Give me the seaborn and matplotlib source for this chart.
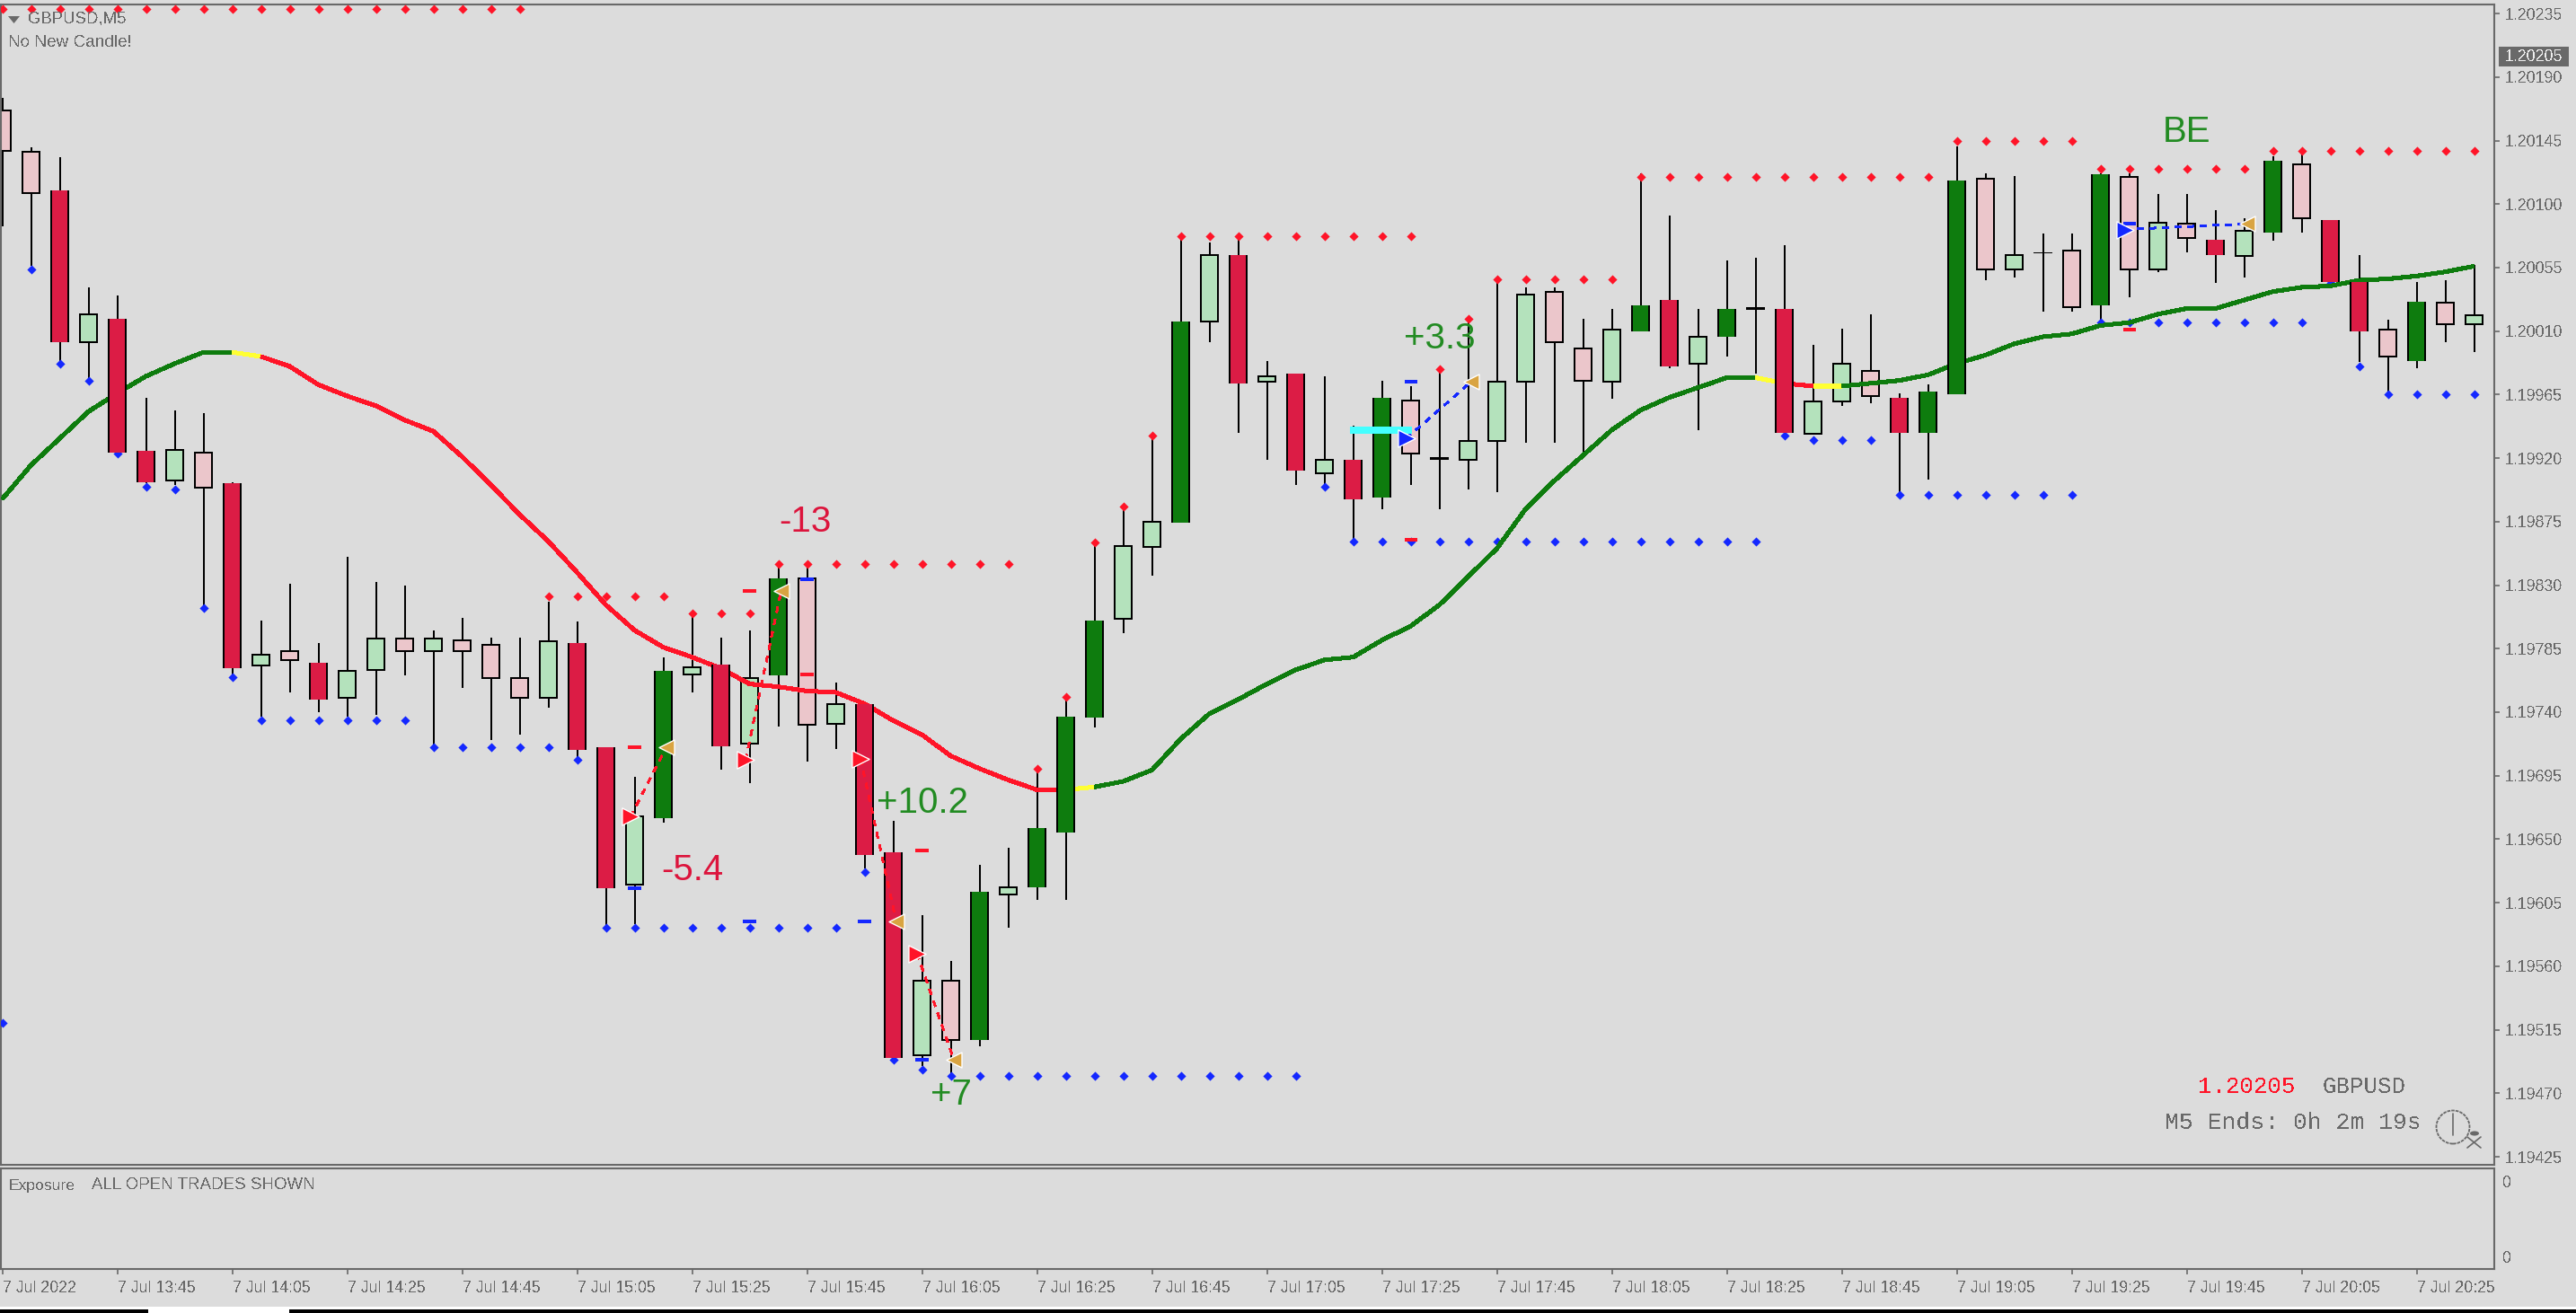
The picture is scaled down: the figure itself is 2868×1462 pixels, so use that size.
import matplotlib
matplotlib.use('Agg')
import matplotlib.pyplot as plt
import matplotlib.patches as mpatches
import seaborn as sns
import numpy as np

# Candles of GBPUSD,M5, one per 5 minutes
HIGHS = [1.20175,1.20140,1.20133,1.20041,1.20035,1.19963,1.19954,1.19952,1.19903,1.19805,
         1.19831,1.19789,1.19850,1.19832,1.19830,1.19798,1.19807,1.19793,1.19793,1.19818,
         1.19804,1.19715,1.19694,1.19779,1.19809,1.19793,1.19798,1.19844,1.19844,1.19761,
         1.19746,1.19663,1.19596,1.19564,1.19632,1.19644,1.19700,1.19751,1.19860,1.19885,
         1.19935,1.20076,1.20073,1.20076,1.19989,1.19980,1.19978,1.19943,1.19975,1.19971,
         1.19982,1.20017,1.20045,1.20041,1.20041,1.20019,1.20026,1.20122,1.20092,1.20026,
         1.20060,1.20062,1.20071,1.20000,1.20012,1.20022,1.19966,1.19972,1.20141,1.20122,
         1.20120,1.20079,1.20079,1.20122,1.20122,1.20107,1.20107,1.20096,1.20090,1.20134,
         1.20135,1.20089,1.20064,1.20018,1.20045,1.20046,1.20057]
BODY_TOPS = [1.20166,1.20137,1.20110,1.20022,1.20019,1.19925,1.19926,1.19924,1.19902,1.19781,
             1.19783,1.19775,1.19769,1.19792,1.19792,1.19792,1.19791,1.19788,1.19764,1.19790,
             1.19789,1.19715,1.19666,1.19769,1.19772,1.19774,1.19764,1.19835,1.19835,1.19746,
             1.19746,1.19641,1.19550,1.19550,1.19613,1.19616,1.19658,1.19737,1.19805,1.19858,
             1.19875,1.20017,1.20064,1.20064,1.19978,1.19980,1.19919,1.19919,1.19963,1.19961,
             1.19921,1.19932,1.19974,1.20036,1.20038,1.19998,1.20011,1.20028,1.20032,1.20006,
             1.20026,1.20027,1.20026,1.19960,1.19987,1.19982,1.19963,1.19967,1.20117,1.20118,
             1.20064,1.20066,1.20067,1.20121,1.20119,1.20087,1.20086,1.20075,1.20081,1.20131,
             1.20128,1.20089,1.20045,1.20011,1.20031,1.20030,1.20021]
BODY_BOTTOMS = [1.20138,1.20108,1.20002,1.20002,1.19924,1.19903,1.19904,1.19899,1.19771,1.19773,
                1.19777,1.19749,1.19750,1.19770,1.19783,1.19783,1.19783,1.19764,1.19750,1.19750,
                1.19713,1.19615,1.19618,1.19665,1.19767,1.19716,1.19718,1.19766,1.19731,1.19732,
                1.19639,1.19495,1.19497,1.19508,1.19508,1.19611,1.19616,1.19655,1.19736,1.19806,
                1.19857,1.19874,1.20017,1.19973,1.19974,1.19911,1.19909,1.19891,1.19892,1.19923,
                1.19919,1.19919,1.19932,1.19974,1.20002,1.19975,1.19974,1.20010,1.19985,1.19987,
                1.20006,1.20025,1.19938,1.19937,1.19960,1.19964,1.19938,1.19938,1.19965,1.20054,
                1.20054,1.20065,1.20027,1.20028,1.20054,1.20054,1.20076,1.20064,1.20063,1.20080,
                1.20090,1.20045,1.20010,1.19992,1.19989,1.20015,1.20015]
LOWS = [1.20084,1.20056,1.19989,1.19977,1.19923,1.19902,1.19901,1.19816,1.19767,1.19737,
        1.19754,1.19740,1.19737,1.19738,1.19766,1.19716,1.19757,1.19720,1.19724,1.19743,
        1.19706,1.19589,1.19590,1.19662,1.19754,1.19699,1.19690,1.19730,1.19705,1.19714,
        1.19629,1.19494,1.19489,1.19483,1.19503,1.19587,1.19607,1.19607,1.19729,1.19796,
        1.19837,1.19874,1.20002,1.19938,1.19919,1.19901,1.19901,1.19863,1.19884,1.19901,
        1.19884,1.19898,1.19896,1.19931,1.19931,1.19921,1.19962,1.20010,1.19984,1.19940,
        1.19992,1.19980,1.19937,1.19937,1.19957,1.19959,1.19896,1.19905,1.19965,1.20046,
        1.20048,1.20024,1.20024,1.20017,1.20034,1.20052,1.20066,1.20044,1.20048,1.20074,
        1.20080,1.20044,1.19988,1.19966,1.19984,1.20002,1.19995]
# D dark green, L light green, P pink, C crimson, X doji
KINDS = list("PPCLCCLPCL" "PCLLPLPPPL" "CCLDLCLDPL" "CCLPDLDDDL" "LDLCLCLCDP"
             "XLLLPPLDCL" "DXCLLPCDDP" "LXPDPLPCLD" "PCCPDPL")

RED_DOTS = ([1.20238]*19 + [1.19822]*5 + [1.19810]*3 + [1.19845]*9 + [1.19700, 1.19751, 1.19860, 1.19886, 1.19936]
            + [1.20077]*9 + [1.19983, 1.20019] + [1.20047]*5 + [1.20119]*11 + [1.20145]*5 + [1.20125]*6
            + [1.20138]*8)
BLUE_DOTS = ([1.19520, 1.20054, 1.19987, 1.19975, 1.19923, 1.19900, 1.19898, 1.19814, 1.19765] + [1.19734]*6
             + [1.19715]*5 + [1.19706] + [1.19587]*9 + [1.19627, 1.19494, 1.19487] + [1.19482]*13 + [1.19900]
             + [1.19861]*15 + [1.19936] + [1.19933]*3 + [1.19894]*7 + [1.20016]*8 + [1.20044, 1.19985]
             + [1.19965]*4)

MA_VALUES = [1.19891,1.19915,1.19934,1.19953,1.19966,1.19978,1.19987,1.19995,1.19995,1.19992,
             1.19985,1.19972,1.19964,1.19957,1.19947,1.19939,1.19921,1.19901,1.19880,1.19861,
             1.19839,1.19816,1.19798,1.19786,1.19779,1.19771,1.19760,1.19758,1.19755,1.19754,
             1.19746,1.19734,1.19724,1.19709,1.19700,1.19692,1.19685,1.19685,1.19687,1.19691,
             1.19699,1.19721,1.19739,1.19749,1.19760,1.19770,1.19777,1.19779,1.19791,1.19801,
             1.19816,1.19836,1.19856,1.19884,1.19904,1.19922,1.19940,1.19954,1.19963,1.19970,
             1.19977,1.19977,1.19973,1.19971,1.19971,1.19973,1.19975,1.19979,1.19987,1.19993,
             1.20001,1.20006,1.20008,1.20014,1.20016,1.20022,1.20026,1.20026,1.20032,1.20038,
             1.20041,1.20042,1.20046,1.20047,1.20049,1.20052,1.20056]
MA_RUNS = [(0, 8, 'g'), (8, 9, 'y'), (9, 37, 'r'), (37, 38, 'y'), (38, 61, 'g'),
           (61, 62, 'y'), (62, 63, 'r'), (63, 64, 'y'), (64, 86, 'g')]

# Closed trades
TRADE_ENTRY_X = [21.86, 25.86, 29.86, 31.83, 48.85, 73.85]
TRADE_ENTRY_Y = [1.19666, 1.19706, 1.19707, 1.19569, 1.19934, 1.20082]
TRADE_EXIT_X = [23.1, 27.1, 31.1, 33.1, 51.1, 78.1]
TRADE_EXIT_Y = [1.19715, 1.19826, 1.19592, 1.19494, 1.19974, 1.20086]
TRADE_COLORS = ['r', 'r', 'r', 'r', 'b', 'b']
RED_DASH_X = [22, 26, 28, 32, 49, 74]
RED_DASH_Y = [1.19715, 1.19826, 1.19767, 1.19642, 1.19862, 1.20011]
BLUE_DASH_X = [22, 26, 28, 30, 32, 49, 74]
BLUE_DASH_Y = [1.19615, 1.19592, 1.19834, 1.19592, 1.19494, 1.19974, 1.20086]
RESULT_LABELS = ['-5.4', '-13', '+10.2', '+7', '+3.3', 'BE']
RESULT_X = [24, 27.95, 32, 33, 50, 76]
RESULT_Y = [1.19628, 1.19875, 1.19676, 1.19469, 1.20005, 1.20151]
CYAN_X = [46.9, 49.05]
CYAN_Y = [1.19940, 1.19940]

PRICE_TICKS = [1.20235, 1.20190, 1.20145, 1.20100, 1.20055, 1.20010, 1.19965, 1.19920, 1.19875, 1.19830,
               1.19785, 1.19740, 1.19695, 1.19650, 1.19605, 1.19560, 1.19515, 1.19470, 1.19425]
TIME_LABELS = ['7 Jul 2022', '7 Jul 13:45', '7 Jul 14:05', '7 Jul 14:25', '7 Jul 14:45', '7 Jul 15:05',
               '7 Jul 15:25', '7 Jul 15:45', '7 Jul 16:05', '7 Jul 16:25', '7 Jul 16:45', '7 Jul 17:05',
               '7 Jul 17:25', '7 Jul 17:45', '7 Jul 18:05', '7 Jul 18:25', '7 Jul 18:45', '7 Jul 19:05',
               '7 Jul 19:25', '7 Jul 19:45', '7 Jul 20:05', '7 Jul 20:25']

BG = '#DCDCDC'
GREY = '#696969'
COLORS = {'D': '#0E7C0E', 'L': '#B4E2BC', 'P': '#EBC6CB', 'C': '#DC1C45',
          'g': '#0E7C0E', 'y': '#FFFF33', 'r': '#FF1428', 'b': '#1428FF',
          'gold': '#D9A441', 'cyan': '#44FFFF', 'win': '#228B22', 'loss': '#DC143C'}
W, H = 2868, 1462

sns.set_theme(style='white', rc={'axes.facecolor': BG, 'figure.facecolor': BG})
plt.rcParams['font.family'] = ['Liberation Sans', 'DejaVu Sans']
plt.rcParams['text.antialiased'] = False

fig = plt.figure(figsize=(W / 100, H / 100), dpi=100)


def box(left, top, right, bottom):
    return [left / W, 1 - bottom / H, (right - left) / W, (bottom - top) / H]


def fx(x):
    return x / W


def fy(y):
    return 1 - y / H


ax = fig.add_axes(box(1, 5, 2777, 1297))
sub = fig.add_axes(box(1, 1301, 2777, 1413))
idx = np.arange(len(HIGHS))

# Wicks, then bodies. Light bodies sit under the MA, solid ones over it
ax.vlines(idx, LOWS, HIGHS, color='black', lw=1.44, zorder=2, antialiased=False)
for i, kind in enumerate(KINDS):
    height = BODY_TOPS[i] - BODY_BOTTOMS[i]
    if kind in 'LP':
        ax.bar(i, height, bottom=BODY_BOTTOMS[i], width=0.61, color=COLORS[kind], edgecolor='black',
               linewidth=1.44, zorder=2.5, antialiased=False)
    elif kind in 'DC':
        ax.bar(i, height, bottom=BODY_BOTTOMS[i], width=0.67, color='black', linewidth=0, zorder=3.5,
               antialiased=False)
        ax.bar(i, height, bottom=BODY_BOTTOMS[i], width=0.54, color=COLORS[kind], linewidth=0, zorder=3.6,
               antialiased=False)
    else:
        ax.bar(i, height, bottom=BODY_BOTTOMS[i], width=0.67, color='black', linewidth=0, zorder=3.5,
               antialiased=False)

# Moving average, coloured by slope
for start, end, c in MA_RUNS:
    sns.lineplot(x=idx[start:end + 1], y=MA_VALUES[start:end + 1], color=COLORS[c], lw=2.9, ax=ax,
                 estimator=None, sort=False, legend=False, zorder=3, solid_capstyle='butt', antialiased=False)

# Fractal dots
sns.scatterplot(x=idx, y=RED_DOTS, marker='D', s=27, color=COLORS['r'], linewidth=0, ax=ax, zorder=2.8, legend=False)
sns.scatterplot(x=idx, y=BLUE_DOTS, marker='D', s=27, color=COLORS['b'], linewidth=0, ax=ax, zorder=2.8, legend=False)

# Trades
ax.plot(CYAN_X, CYAN_Y, color=COLORS['cyan'], lw=4.4, zorder=5, solid_capstyle='butt', antialiased=False)
for k in range(len(TRADE_ENTRY_X)):
    c = COLORS[TRADE_COLORS[k]]
    ax.plot([TRADE_ENTRY_X[k], TRADE_EXIT_X[k]], [TRADE_ENTRY_Y[k], TRADE_EXIT_Y[k]], color=c, lw=1.1,
            linestyle=(0, (4, 5)), zorder=5, antialiased=False)
    sns.scatterplot(x=[TRADE_EXIT_X[k]], y=[TRADE_EXIT_Y[k]], marker='<', s=150, color=COLORS['gold'],
                    edgecolor='white', linewidth=1.0, ax=ax, zorder=6, legend=False)
    sns.scatterplot(x=[TRADE_ENTRY_X[k]], y=[TRADE_ENTRY_Y[k]], marker='>', s=190, color=c,
                    edgecolor='white', linewidth=1.0, ax=ax, zorder=6, legend=False)
ax.hlines(RED_DASH_Y, np.array(RED_DASH_X) - 0.22, np.array(RED_DASH_X) + 0.22, color=COLORS['r'], lw=1.5,
          zorder=5, antialiased=False)
ax.hlines(BLUE_DASH_Y, np.array(BLUE_DASH_X) - 0.22, np.array(BLUE_DASH_X) + 0.22, color=COLORS['b'], lw=1.5,
          zorder=5, antialiased=False)
for label, x, y in zip(RESULT_LABELS, RESULT_X, RESULT_Y):
    col = COLORS['loss'] if label.startswith('-') else COLORS['win']
    ax.text(x, y, label, color=col, fontsize=29, ha='center', va='center', zorder=7, antialiased=True)

# Axes: a candle every 32 px, first one on the left frame
ax.set_xlim(-0.047, 86.70)
ax.set_ylim(1.194193, 1.202414)
ax.set_xticks([])
ax.yaxis.tick_right()
ax.set_yticks(PRICE_TICKS)
ax.set_yticklabels([f'{p:.5f}' for p in PRICE_TICKS])
ax.tick_params(axis='y', length=4, width=1.2, color=GREY, labelcolor=GREY, labelsize=12.8, pad=4.5, right=True)

sub.set_xlim(-0.047, 86.70)
sub.set_ylim(0, 1)
sub.yaxis.tick_right()
sub.set_yticks([0.125, 0.875])
sub.set_yticklabels(['0', '0'])
sub.tick_params(axis='y', length=0, labelcolor=GREY, labelsize=12.8, pad=7, right=False)
sub.set_xticks(idx[::4][:len(TIME_LABELS)])
sub.set_xticklabels(TIME_LABELS, ha='left')
sub.tick_params(axis='x', length=4, width=1.2, color=GREY, labelcolor=GREY, labelsize=12.8, pad=5.5, bottom=True)
for a in (ax, sub):
    a.grid(False)
    for s in a.spines.values():
        s.set_color(GREY)
        s.set_linewidth(1.5)

# Chart labels in fixed positions
fig.patches.append(mpatches.Polygon([[fx(9), fy(18)], [fx(22), fy(18)], [fx(15.5), fy(26)]], closed=True,
                                    transform=fig.transFigure, facecolor=GREY, edgecolor='none'))
fig.text(fx(31), fy(21), 'GBPUSD,M5', color=GREY, fontsize=13.4, va='center')
fig.text(fx(9), fy(47), 'No New Candle!', color=GREY, fontsize=13.7, va='center')
fig.text(fx(10), fy(1320), 'Exposure', color=GREY, fontsize=12.6, va='center')
fig.text(fx(102), fy(1320), 'ALL OPEN TRADES SHOWN', color=GREY, fontsize=13.5, va='center')

fig.patches.append(mpatches.Rectangle((fx(2782), fy(74)), 78 / W, 22 / H, transform=fig.transFigure,
                                      facecolor=GREY, edgecolor='none'))
fig.text(fx(2821), fy(63), '1.20205', color='#EEEEEE', fontsize=12.8, ha='center', va='center')

mono = ['Liberation Mono', 'DejaVu Sans Mono']
fig.text(fx(2447), fy(1210), '1.20205', color=COLORS['r'], fontsize=18.5, family=mono, va='center')
fig.text(fx(2586), fy(1210), 'GBPUSD', color=GREY, fontsize=18.5, family=mono, va='center')
fig.text(fx(2410), fy(1250), 'M5 Ends: 0h 2m 19s', color=GREY, fontsize=19, family=mono, va='center')

# Clock icon
fig.patches.append(mpatches.Ellipse((fx(2731), fy(1255)), 37 / W, 37 / H, transform=fig.transFigure,
                                    facecolor='none', edgecolor=GREY, linewidth=1.3, linestyle=(0, (2, 0.6))))
fig.add_artist(plt.Line2D([fx(2731), fx(2731)], [fy(1240), fy(1264)], color=GREY, lw=1.2))
fig.patches.append(mpatches.Circle((fx(2755), fy(1262)), 5 / W, transform=fig.transFigure, facecolor=GREY,
                                   edgecolor='none'))
fig.add_artist(plt.Line2D([fx(2747), fx(2762)], [fy(1266), fy(1278)], color=GREY, lw=1.2))
fig.add_artist(plt.Line2D([fx(2762), fx(2747)], [fy(1266), fy(1278)], color=GREY, lw=1.2))

# Strip of the terminal tabs below the chart
fig.patches.append(mpatches.Rectangle((0, 0), 1, (H - 1455) / H, transform=fig.transFigure, facecolor='white',
                                      edgecolor='none'))
fig.patches.append(mpatches.Rectangle((0, 0), 165 / W, 4 / H, transform=fig.transFigure, facecolor='black',
                                      edgecolor='none'))
fig.patches.append(mpatches.Rectangle((322 / W, 0), (W - 322) / W, 4 / H, transform=fig.transFigure,
                                      facecolor='black', edgecolor='none'))

fig.savefig('out.png', dpi=100, facecolor=BG)
plt.close(fig)
